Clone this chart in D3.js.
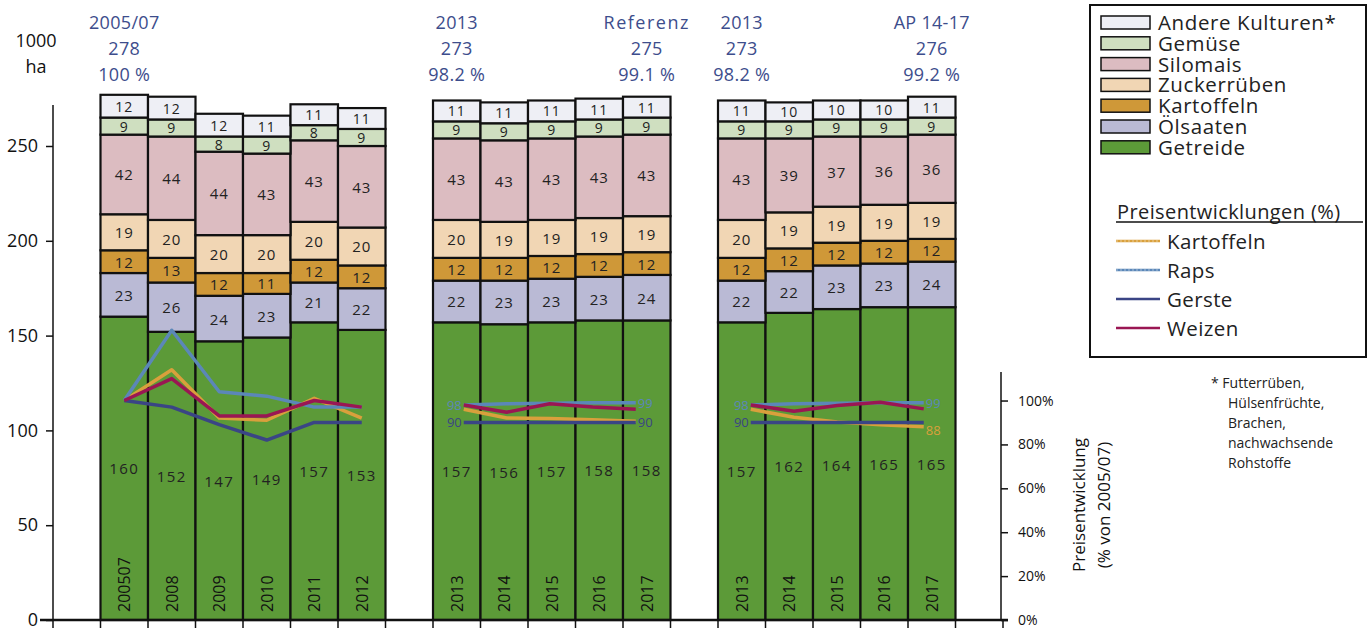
<!DOCTYPE html>
<html>
<head>
<meta charset="utf-8">
<script src="https://cdn.jsdelivr.net/npm/d3@7"></script>
<style>
  html, body { margin: 0; padding: 0; background: #fff; }
  svg { display: block; font-family: "Open Sans", "DejaVu Sans", sans-serif; }
</style>
</head>
<body>
<svg id="chart" width="1371" height="630"></svg>
<script>
// crop areas in 1000 ha, stacked bottom to top
const crops = ["Getreide", "Ölsaaten", "Kartoffeln", "Zuckerrüben", "Silomais", "Gemüse", "Andere Kulturen*"];
const cropColors = ["#5c9a38", "#babad5", "#cf9838", "#f1d6b4", "#dcbcc1", "#cfdfc0", "#eeeff5"];

// slots on the category axis (empty ones are gaps)
const slots = ["g0", "200507", "2008", "2009", "2010", "2011", "2012", "g1",
  "2013a", "2014a", "2015a", "2016a", "2017a", "g2",
  "2013b", "2014b", "2015b", "2016b", "2017b", "g3"];
const barSlots = slots.filter(s => !s.startsWith("g"));
const barLabels = ["200507", "2008", "2009", "2010", "2011", "2012",
  "2013", "2014", "2015", "2016", "2017",
  "2013", "2014", "2015", "2016", "2017"];

const getreide    = [160, 152, 147, 149, 157, 153, 157, 156, 157, 158, 158, 157, 162, 164, 165, 165];
const oelsaaten   = [23, 26, 24, 23, 21, 22, 22, 23, 23, 23, 24, 22, 22, 23, 23, 24];
const kartoffeln  = [12, 13, 12, 11, 12, 12, 12, 12, 12, 12, 12, 12, 12, 12, 12, 12];
const zuckerrueben = [19, 20, 20, 20, 20, 20, 20, 19, 19, 19, 19, 20, 19, 19, 19, 19];
const silomais    = [42, 44, 44, 43, 43, 43, 43, 43, 43, 43, 43, 43, 39, 37, 36, 36];
const gemuese     = [9, 9, 8, 9, 8, 9, 9, 9, 9, 9, 9, 9, 9, 9, 9, 9];
const andere      = [12, 12, 12, 11, 11, 11, 11, 11, 11, 11, 11, 11, 10, 10, 10, 11];

// headline over groups
const headers = [
  { slot: "200507", lines: ["2005/07", "278", "100 %"] },
  { slot: "2013a", lines: ["2013", "273", "98.2 %"] },
  { slot: "2017a", lines: ["Referenz", "275", "99.1 %"] },
  { slot: "2013b", lines: ["2013", "273", "98.2 %"] },
  { slot: "2017b", lines: ["AP 14-17", "276", "99.2 %"] }
];

// price development, % of 2005/07
const priceNames = ["Kartoffeln", "Raps", "Gerste", "Weizen"];
const priceColors = ["#d9a03c", "#5b87b8", "#3a4585", "#9a1653"];
const priceSlots1 = ["200507", "2008", "2009", "2010", "2011", "2012"];
const priceSlots2 = ["2013a", "2014a", "2015a", "2016a", "2017a"];
const priceSlots3 = ["2013b", "2014b", "2015b", "2016b", "2017b"];
const preis1 = {
  Kartoffeln: [100, 114, 92, 91, 101, 92],
  Raps:       [100, 132, 104, 102, 97, 97],
  Gerste:     [100, 97, 89, 82, 90, 90],
  Weizen:     [100, 110, 93, 93, 100, 97]
};
const preis2 = {
  Kartoffeln: [96, 92, 91.8, 91.2, 90.6],
  Raps:       [98, 98.5, 98.8, 99, 99],
  Gerste:     [90, 90, 90, 90, 90],
  Weizen:     [98, 94.7, 98.5, 97, 96]
};
const preis3 = {
  Kartoffeln: [96, 92.4, 90.2, 89, 88],
  Raps:       [98, 98.5, 98.8, 99, 99],
  Gerste:     [90, 90, 90, 90, 90],
  Weizen:     [98, 95.1, 97.7, 99.2, 96.2]
};
// value labels at the line ends of the projection groups
const endLabels2 = [
  { side: "start", series: "Raps", text: "98" },
  { side: "start", series: "Gerste", text: "90" },
  { side: "end", series: "Raps", text: "99" },
  { side: "end", series: "Gerste", text: "90" }
];
const endLabels3 = [
  { side: "start", series: "Raps", text: "98" },
  { side: "start", series: "Gerste", text: "90" },
  { side: "end", series: "Raps", text: "99" },
  { side: "end", series: "Kartoffeln", text: "88" }
];

const footnote = ["* Futterrüben,", "Hülsenfrüchte,", "Brachen,", "nachwachsende", "Rohstoffe"];

const svg = d3.select("#chart");
const headColor = "#3d4d8c";

const x = d3.scaleBand().domain(slots).range([53, 1003]).padding(0);
const y = d3.scaleLinear().domain([0, 250]).range([620, 146]);
const y2 = d3.scaleLinear().domain([0, 113]).range([620, 372]);

// stacked data
const rows = barSlots.map((s, i) => {
  const r = { slot: s, label: barLabels[i] };
  [getreide, oelsaaten, kartoffeln, zuckerrueben, silomais, gemuese, andere]
    .forEach((arr, k) => { r[crops[k]] = arr[i]; });
  return r;
});
const series = d3.stack().keys(crops)(rows);

const gBars = svg.append("g");
series.forEach((ser, k) => {
  gBars.selectAll(null).data(ser).join("rect")
    .attr("x", d => x(d.data.slot))
    .attr("width", x.bandwidth())
    .attr("y", d => y(d[1]))
    .attr("height", d => y(d[0]) - y(d[1]))
    .attr("fill", cropColors[k])
    .attr("stroke", "#111")
    .attr("stroke-width", 2.2);
});

// segment values
series.forEach((ser, k) => {
  gBars.selectAll(null).data(ser).join("text")
    .attr("x", d => x(d.data.slot) + x.bandwidth() / 2)
    .attr("y", d => (y(d[0]) + y(d[1])) / 2)
    .attr("text-anchor", "middle")
    .attr("dominant-baseline", "central")
    .attr("font-size", k >= 5 ? 14 : 15)
    .attr("letter-spacing", k === 0 ? 1.5 : 1)
    .attr("fill", "#222")
    .text(d => d.data[crops[k]]);
});

// year labels inside bars
gBars.selectAll(null).data(rows).join("text")
  .attr("transform", d => `translate(${x(d.slot) + x.bandwidth() / 2},612) rotate(-90)`)
  .attr("dominant-baseline", "central")
  .attr("font-size", 16)
  .attr("fill", "#111")
  .text(d => d.label);

// price lines
const gLines = svg.append("g");
const groups = [
  { slots: priceSlots1, data: preis1, inset: [0, 0], labels: [] },
  { slots: priceSlots2, data: preis2, inset: [7, 11], labels: endLabels2 },
  { slots: priceSlots3, data: preis3, inset: [9, 8], labels: endLabels3 }
];
groups.forEach(gr => {
  const c0 = x(gr.slots[0]) + x.bandwidth() / 2;
  const c1 = x(gr.slots[gr.slots.length - 1]) + x.bandwidth() / 2;
  const px = d3.scalePoint().domain(gr.slots).range([c0 + gr.inset[0], c1 - gr.inset[1]]);
  const line = d3.line().x((v, i) => px(gr.slots[i])).y(v => y2(v));
  priceNames.forEach((name, k) => {
    gLines.append("path")
      .attr("d", line(gr.data[name]))
      .attr("fill", "none")
      .attr("stroke", priceColors[k])
      .attr("stroke-width", 3.5)
      .attr("stroke-linejoin", "round");
  });
  const last = gr.slots.length - 1;
  gr.labels.forEach(l => {
    const k = priceNames.indexOf(l.series);
    const i = l.side === "start" ? 0 : last;
    const v = gr.data[l.series][i];
    let ty = y2(v);
    if (l.series === "Kartoffeln") ty += 3;
    gLines.append("text")
      .attr("x", px(gr.slots[i]) + (l.side === "start" ? -2 : 2))
      .attr("y", ty)
      .attr("text-anchor", l.side === "start" ? "end" : "start")
      .attr("dominant-baseline", "central")
      .attr("font-size", 13)
      .attr("fill", priceColors[k])
      .text(l.text);
  });
});

// left axis
const yAxis = svg.append("g")
  .attr("transform", "translate(53,0)")
  .call(d3.axisLeft(y).tickValues([0, 50, 100, 150, 200, 250]).tickSize(7).tickPadding(8));
yAxis.select(".domain").attr("d", `M0,${y(0)}V105`).attr("stroke", "#111").attr("stroke-width", 1.5);
yAxis.selectAll(".tick line").attr("stroke", "#111").attr("stroke-width", 1.5);
yAxis.selectAll("text").attr("font-size", 18).attr("fill", "#111").attr("font-family", "Open Sans, sans-serif");

svg.append("text").attr("x", 36).attr("y", 40).attr("text-anchor", "middle")
  .attr("dominant-baseline", "central").attr("font-size", 18).attr("fill", "#111").text("1000");
svg.append("text").attr("x", 36).attr("y", 66).attr("text-anchor", "middle")
  .attr("dominant-baseline", "central").attr("font-size", 18).attr("fill", "#111").text("ha");

// bottom axis with ticks at slot boundaries
const bounds = slots.map(s => x(s)).concat([x.range()[1]]);
const xAxis = svg.append("g");
xAxis.append("line").attr("x1", 40).attr("x2", 1008).attr("y1", 620).attr("y2", 620)
  .attr("stroke", "#111").attr("stroke-width", 2.5);
xAxis.selectAll(null).data(bounds).join("line")
  .attr("x1", d => d).attr("x2", d => d).attr("y1", 620).attr("y2", 628)
  .attr("stroke", "#111").attr("stroke-width", 1.5);

// right axis
const rAxis = svg.append("g")
  .attr("transform", "translate(1001,0)")
  .call(d3.axisRight(y2).tickValues([0, 20, 40, 60, 80, 100]).tickSize(7).tickPadding(10).tickFormat(d => d + "%"));
rAxis.select(".domain").attr("d", `M0,${y2(0)}V372`).attr("stroke", "#111").attr("stroke-width", 1.5);
rAxis.selectAll(".tick line").attr("stroke", "#111").attr("stroke-width", 1.5);
rAxis.selectAll("text").attr("font-size", 14).attr("fill", "#111").attr("font-family", "Open Sans, sans-serif");

svg.append("text")
  .attr("transform", "translate(1078,505) rotate(-90)")
  .attr("text-anchor", "middle").attr("dominant-baseline", "central")
  .attr("font-size", 17).attr("fill", "#111").text("Preisentwicklung");
svg.append("text")
  .attr("transform", "translate(1103,505) rotate(-90)")
  .attr("text-anchor", "middle").attr("dominant-baseline", "central")
  .attr("font-size", 17).attr("fill", "#111").text("(% von 2005/07)");

// group headers
headers.forEach(h => {
  h.lines.forEach((t, i) => {
    svg.append("text")
      .attr("x", x(h.slot) + x.bandwidth() / 2)
      .attr("y", 22 + i * 26)
      .attr("text-anchor", "middle")
      .attr("dominant-baseline", "central")
      .attr("font-size", 18)
      .attr("letter-spacing", t === "Referenz" ? 1.5 : 0.3)
      .attr("fill", headColor)
      .text(t);
  });
});

// legend
const leg = svg.append("g");
leg.append("rect").attr("x", 1090).attr("y", 5).attr("width", 276).attr("height", 352)
  .attr("fill", "#fff").attr("stroke", "#111").attr("stroke-width", 2);
const legCrops = crops.slice().reverse();
const legColors = cropColors.slice().reverse();
legCrops.forEach((c, i) => {
  const cy = 22 + i * 20.8;
  leg.append("rect").attr("x", 1101).attr("y", cy - 6).attr("width", 49).attr("height", 13)
    .attr("fill", legColors[i]).attr("stroke", "#111").attr("stroke-width", 1.5);
  leg.append("text").attr("x", 1158).attr("y", cy).attr("dominant-baseline", "central")
    .attr("font-size", 20.5).attr("letter-spacing", 0.6).attr("fill", "#222").text(c);
});
leg.append("text").attr("x", 1117).attr("y", 211).attr("dominant-baseline", "central")
  .attr("font-size", 20).attr("letter-spacing", 0.4).attr("fill", "#222").text("Preisentwicklungen (%)");
leg.append("line").attr("x1", 1116).attr("x2", 1363).attr("y1", 222).attr("y2", 222)
  .attr("stroke", "#111").attr("stroke-width", 1.5);
priceNames.forEach((p, i) => {
  const cy = 241 + i * 29;
  leg.append("line").attr("x1", 1116).attr("x2", 1160).attr("y1", cy).attr("y2", cy)
    .attr("stroke", priceColors[i]).attr("stroke-width", 2.5);
  if (i < 2) {
    leg.append("line").attr("x1", 1116).attr("x2", 1160).attr("y1", cy).attr("y2", cy)
      .attr("stroke", "#fff").attr("stroke-width", 0.6).attr("stroke-dasharray", "2,2").attr("opacity", 0.8);
  }
  leg.append("text").attr("x", 1167).attr("y", cy).attr("dominant-baseline", "central")
    .attr("font-size", 20.5).attr("letter-spacing", 0.4).attr("fill", "#222").text(p);
});

// footnote
footnote.forEach((t, i) => {
  svg.append("text")
    .attr("x", i === 0 ? 1211 : 1228)
    .attr("y", 382 + i * 20)
    .attr("dominant-baseline", "central")
    .attr("font-size", 14).attr("fill", "#222").text(t);
});
</script>
</body>
</html>
